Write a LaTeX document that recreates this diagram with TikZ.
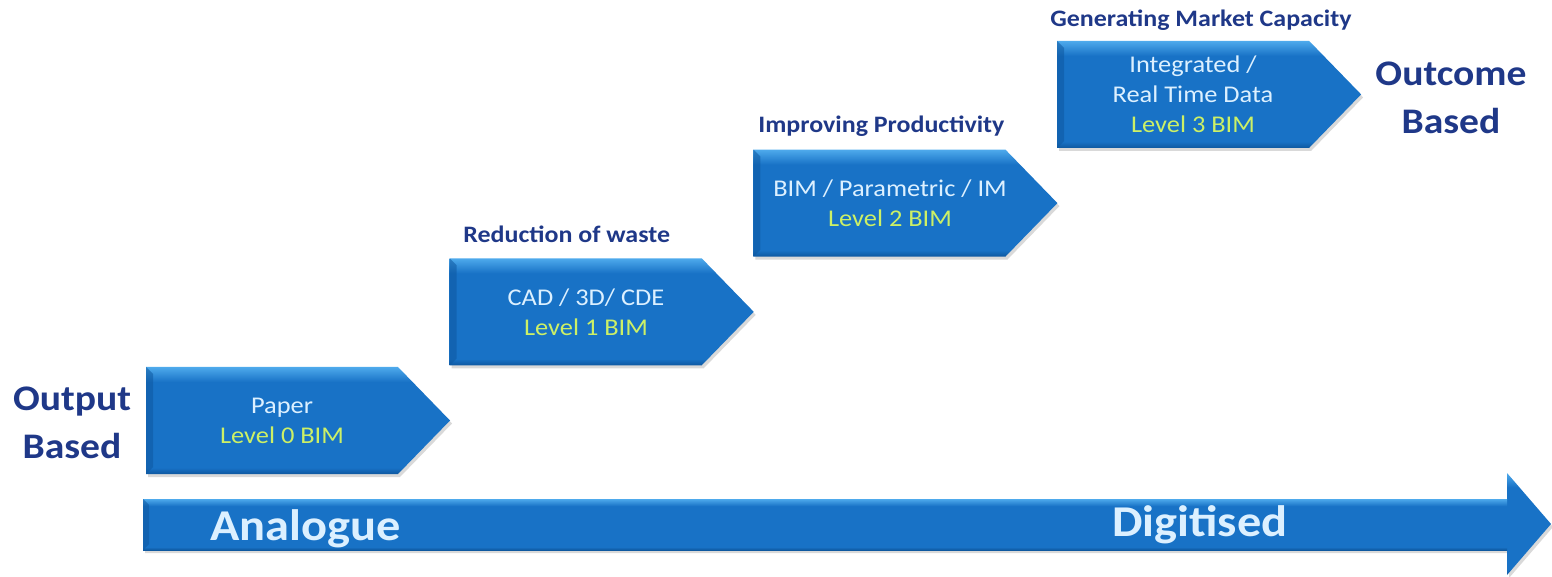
\documentclass[tikz,border=0pt]{standalone}
\usepackage{fontspec}
\setmainfont{Carlito}[FakeStretch=1.1]
\usetikzlibrary{shadows}
\definecolor{darkblue}{RGB}{31,56,136}
\definecolor{chevtop}{RGB}{78,170,236}
\definecolor{chevmid}{RGB}{24,114,198}
\definecolor{chevbot}{RGB}{14,88,160}
\definecolor{boxtext}{RGB}{220,240,255}
\definecolor{lvlgreen}{RGB}{204,240,102}
\pgfdeclareverticalshading{chevshade}{100bp}{color(0bp)=(chevbot); color(25bp)=(chevbot);
  color(28bp)=(chevmid); color(68bp)=(chevmid); color(75bp)=(chevtop); color(100bp)=(chevtop)}
\tikzset{every picture/.style={line width=0.75pt}}

\begin{document}
\begin{tikzpicture}[x=1pt,y=1pt,
    chev/.style={shading=chevshade,drop shadow={opacity=0.3,shadow xshift=2pt,shadow yshift=-3pt}},
    bevel/.style={fill=chevbot,fill opacity=0.55},
    boxtext/.style={align=center,text=boxtext,font=\fontsize{24}{30}\selectfont},
    ttl/.style={anchor=base west,inner sep=0pt,text=darkblue,font=\bfseries\fontsize{23.6}{28}\selectfont},
    side/.style={align=center,text=darkblue,font=\bfseries\fontsize{36}{48}\selectfont},
    big/.style={anchor=base west,inner sep=0pt,text=boxtext,font=\bfseries\fontsize{44}{50}\selectfont}]
  \useasboundingbox (0,0) rectangle (1552,576);
  \foreach \i in {0,...,3} {
    \path[chev] ({146+303.7*\i},{209+108.7*\i}) coordinate (c\i) -- ++(252,0) -- ++(52,-53.5)
      -- ++(-52,-53.5) -- ++(-252,0) -- cycle;
    \path[bevel] (c\i) -- ++(7,-7) -- ++(0,-93) -- ++(-7,-7) -- cycle;
  }
  \node[boxtext] (lvl0) at (282,155.5) {Paper\\\textcolor{lvlgreen}{Level 0 BIM}};
  \node[boxtext] (lvl1) at (586,264) {CAD / 3D/ CDE\\\textcolor{lvlgreen}{Level 1 BIM}};
  \node[boxtext] (lvl2) at (890,373) {BIM / Parametric / IM\\\textcolor{lvlgreen}{Level 2 BIM}};
  \node[boxtext] (lvl3) at (1193,482) {Integrated /\\Real Time Data\\\textcolor{lvlgreen}{Level 3 BIM}};
  \node[ttl] (ttl1) at (463,333) {Reduction of waste};
  \node[ttl] (ttl2) at (758,443) {Improving Productivity};
  \node[ttl] (ttl3) at (1050,549) {Generating Market Capacity};
  \node[side] (outp) at (72,153) {Output\\Based};
  \node[side] (outc) at (1451,478) {Outcome\\Based};
  \path[chev] (143,77) coordinate (a0) -- (1507,77) -- (1507,103) -- (1551,52) -- (1507,1)
    -- (1507,26) -- (143,26) -- cycle;
  \path[shading=chevshade] (a0) rectangle (1507,26);
  \path[bevel] (a0) -- ++(6,-6) -- ++(0,-39) -- ++(-6,-6) -- cycle;
  \node[big] (ana) at (210,36) {Analogue};
  \node[big] (dig) at (1112,40) {Digitised};
\end{tikzpicture}
\end{document}
